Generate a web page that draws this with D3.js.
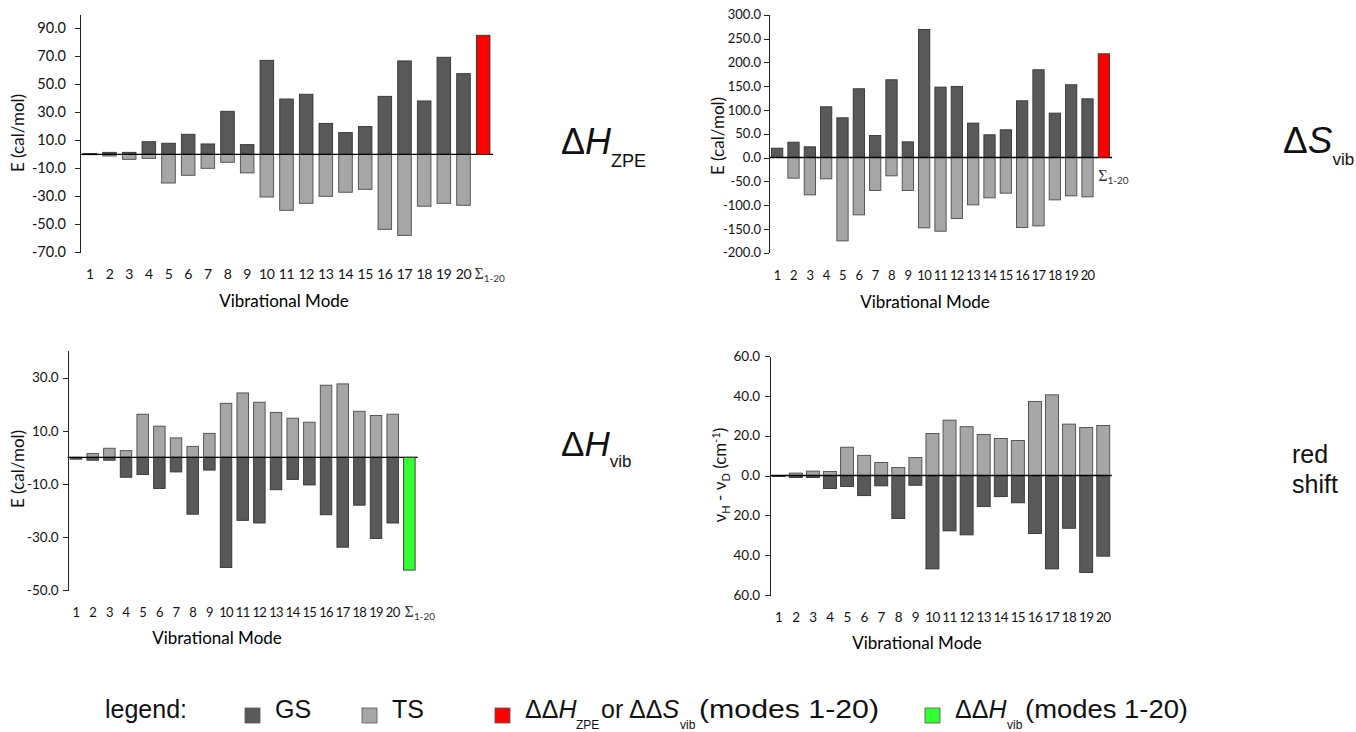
<!DOCTYPE html>
<html>
<head>
<meta charset="utf-8">
<script src="https://cdn.jsdelivr.net/npm/d3@7"></script>
<style>
  html, body { margin: 0; padding: 0; background: #fff; }
  svg { display: block; }
  .ax text { font-family: Lato, "Open Sans", sans-serif; fill: #111; }
  .ax path, .ax line { stroke: #222; shape-rendering: crispEdges; }
</style>
</head>
<body>
<svg id="chart" width="1356" height="732"></svg>
<script>
// ---------------- data ----------------
const modes = ["1","2","3","4","5","6","7","8","9","10","11","12","13","14","15","16","17","18","19","20"];
const sumLabel = "Σ";
const sumSub = "1-20";

// ΔH_ZPE (cal/mol)
const zpeGS = [0.5, 1.4, 1.4, 9.0, 7.9, 14.3, 7.4, 30.7, 6.9, 67.1, 39.5, 42.9, 22.1, 15.5, 19.8, 41.4, 66.7, 38.1, 69.3, 57.6];
const zpeTS = [-0.3, -1.2, -3.6, -2.9, -20.5, -15.0, -10.0, -5.7, -13.3, -30.5, -40.0, -35.0, -30.0, -27.1, -25.0, -53.6, -57.9, -37.1, -35.0, -36.4];
const zpeSum = 85.0;
const zpeTicks = [-70, -50, -30, -10, 10, 30, 50, 70, 90];

// ΔS_vib
const svibGS = [19.6, 32.2, 22.4, 106.5, 83.4, 144.4, 46.3, 163.3, 32.9, 269.1, 147.9, 149.3, 72.2, 47.7, 58.2, 119.1, 184.3, 93.2, 152.8, 123.3];
const svibTS = [0, -43.4, -78.5, -44.8, -175.2, -120.5, -69.4, -38.5, -69.4, -147.9, -154.9, -128.2, -99.5, -84.8, -75.0, -147.2, -143.7, -89.0, -80.6, -82.7];
const svibSum = 217.9;
const svibTicks = [-200, -150, -100, -50, 0, 50, 100, 150, 200, 250, 300];

// ΔH_vib
const hvibGS = [-0.7, -1.1, -1.1, -7.5, -6.5, -11.7, -5.5, -21.4, -4.8, -41.4, -23.7, -24.7, -12.2, -8.3, -10.4, -21.6, -33.8, -18.0, -30.5, -24.7];
const hvibTS = [0.0, 1.4, 3.4, 2.5, 16.2, 11.7, 7.3, 4.1, 9.0, 20.3, 24.2, 20.7, 16.9, 14.7, 13.2, 27.1, 27.6, 17.3, 15.7, 16.2];
const hvibSum = -42.4;
const hvibTicks = [-50, -30, -10, 10, 30];

// red shift (cm-1)
const shiftGS = [-0.5, -1.0, -1.0, -6.5, -5.5, -10.1, -5.2, -21.6, -4.9, -46.9, -27.8, -29.8, -15.6, -10.6, -13.7, -29.1, -46.9, -26.5, -48.7, -40.5];
const shiftTS = [0.0, 1.2, 2.2, 2.0, 14.2, 10.1, 6.5, 4.0, 9.0, 21.1, 27.8, 24.5, 20.6, 18.6, 17.6, 37.2, 40.5, 25.8, 24.1, 25.1];
const shiftTicks = [-60, -40, -20, 0, 20, 40, 60];

const legendItems = ["GS", "TS"];

// ---------------- drawing ----------------
const COL_GS = "#595959", COL_TS = "#a6a6a6", COL_RED = "#ff0000", COL_GREEN = "#33ff33";
const svg = d3.select("#chart");
svg.append("rect").attr("width", 1356).attr("height", 732).attr("fill", "#fff");

function drawChart(c) {
  const g = svg.append("g");
  const cats = c.sum !== null ? modes.concat(["S"]) : modes.slice();
  const x = d3.scaleBand().domain(cats).range(c.xr).paddingInner(c.pad).paddingOuter(c.pad / 2);
  const y = d3.scaleLinear().domain(c.dom).range(c.yr);
  const bw = x.bandwidth();

  const rows = modes.map((m, i) => ({ m, gs: c.gs[i], ts: c.ts[i] }));
  g.selectAll(".ts").data(rows).join("rect")
    .attr("x", d => x(d.m)).attr("width", bw)
    .attr("y", d => y(Math.max(0, d.ts))).attr("height", d => Math.abs(y(d.ts) - y(0)))
    .attr("fill", COL_TS).attr("stroke", "#4a4a4a").attr("stroke-width", 0.9);
  g.selectAll(".gs").data(rows).join("rect")
    .attr("x", d => x(d.m)).attr("width", bw)
    .attr("y", d => y(Math.max(0, d.gs))).attr("height", d => Math.abs(y(d.gs) - y(0)))
    .attr("fill", COL_GS).attr("stroke", "#333").attr("stroke-width", 0.9);

  g.append("line").attr("x1", c.xr[0]).attr("x2", c.xr[1]).attr("y1", y(0)).attr("y2", y(0))
    .attr("stroke", "#000").attr("stroke-width", 1.3);

  if (c.sum !== null) {
    g.append("rect").attr("x", x("S")).attr("width", bw)
      .attr("y", y(Math.max(0, c.sum))).attr("height", Math.abs(y(c.sum) - y(0)))
      .attr("fill", c.sumColor).attr("stroke", "#333").attr("stroke-width", 0.9);
  }

  const ax = d3.axisLeft(y).tickValues(c.ticks).tickFormat(c.fmt)
    .tickSizeInner(5).tickSizeOuter(0).tickPadding(c.tp);
  const ag = g.append("g").attr("class", "ax").attr("transform", `translate(${c.xr[0]},0)`).call(ax);
  ag.selectAll("text").style("font-size", c.tickFont + "px");

  const lab = g.append("g").attr("class", "ax");
  lab.selectAll("text").data(modes).join("text")
    .attr("x", d => x(d) + bw / 2).attr("y", c.catY)
    .attr("text-anchor", "middle").style("font-size", c.catFont + "px").style("letter-spacing", c.catLs + "px")
    .text(d => d);
  if (c.sum !== null) {
    const t = lab.append("text").attr("x", x("S") + c.sumDx).attr("y", c.sumY);
    t.append("tspan").text(sumLabel).style("font-family", "'Liberation Serif', 'DejaVu Serif', serif").style("font-size", "16px").style("fill", "#333");
    t.append("tspan").text(sumSub).attr("dy", 3).style("font-size", "10px").style("fill", "#333");
  }

  g.append("text").attr("class", "ax").attr("x", c.titleX).attr("y", c.titleY)
    .attr("text-anchor", "middle").style("font-family", "Lato, sans-serif").style("font-size", "17px")
    .text("Vibrational Mode");
  const yt = g.append("text")
    .attr("transform", `translate(${c.ytX},${c.ytY}) rotate(-90)`)
    .attr("text-anchor", "middle").style("font-family", "Lato, sans-serif").style("font-size", "17px").style("fill", "#111");
  if (c.ytitle === "shift") {
    yt.append("tspan").text("ν");
    yt.append("tspan").text("H").attr("dy", 4).style("font-size", "11px");
    yt.append("tspan").text(" - ν").attr("dy", -4);
    yt.append("tspan").text("D").attr("dy", 4).style("font-size", "11px");
    yt.append("tspan").text(" (cm").attr("dy", -4);
    yt.append("tspan").text("-1").attr("dy", -6).style("font-size", "11px");
    yt.append("tspan").text(")").attr("dy", 6);
  } else {
    yt.text("E (cal/mol)");
  }
}

const fmt1 = v => v.toFixed(1);
const fmtAbs = v => Math.abs(v).toFixed(1);

drawChart({ gs: zpeGS, ts: zpeTS, sum: zpeSum, sumColor: COL_RED, xr: [80, 493], pad: 0.31,
  dom: [-70, 100], yr: [252.3, 14.3], ticks: zpeTicks, fmt: fmt1, tp: 9, tickFont: 14.5,
  catY: 279, catFont: 14, catLs: -0.4, sumDx: -2, sumY: 279, titleX: 284, titleY: 307, ytX: 24, ytY: 133 });

drawChart({ gs: svibGS, ts: svibTS, sum: svibSum, sumColor: COL_RED, xr: [769, 1112], pad: 0.31,
  dom: [-200, 300], yr: [252.7, 14.7], ticks: svibTicks, fmt: fmt1, tp: 3, tickFont: 13,
  catY: 280, catFont: 13, catLs: -0.7, sumDx: 0, sumY: 181, titleX: 925, titleY: 308, ytX: 724, ytY: 136 });

drawChart({ gs: hvibGS, ts: hvibTS, sum: hvibSum, sumColor: COL_GREEN, xr: [67.7, 417.7], pad: 0.31,
  dom: [-50, 40], yr: [590.3, 350.9], ticks: hvibTicks, fmt: fmt1, tp: 4, tickFont: 13.5,
  catY: 617, catFont: 13, catLs: -0.7, sumDx: 1, sumY: 617, titleX: 217, titleY: 644, ytX: 24, ytY: 469 });

drawChart({ gs: shiftGS, ts: shiftTS, sum: null, xr: [770.2, 1111.8], pad: 0.24,
  dom: [-60, 60], yr: [595, 356], ticks: shiftTicks, fmt: fmtAbs, tp: 5, tickFont: 13.5,
  catY: 621.5, catFont: 13.5, catLs: -0.6, titleX: 917, titleY: 649, ytX: 726, ytY: 475, ytitle: "shift" });

// ---------------- big labels ----------------
const BIG = "'Liberation Sans', Arial, sans-serif";
function bigLabel(x0, yb, letter, sub, size, subSize, subDy) {
  const t = svg.append("text").attr("x", x0).attr("y", yb).style("font-family", BIG).style("font-size", size + "px").style("fill", "#111");
  t.append("tspan").text("Δ");
  t.append("tspan").text(letter).style("font-style", "italic");
  t.append("tspan").text(sub).attr("dy", subDy).style("font-size", subSize + "px");
}
bigLabel(561, 154, "H", "ZPE", 36, 18, 13);
bigLabel(1283, 153, "S", "vib", 37, 17, 12);
bigLabel(561, 456, "H", "vib", 35, 17, 11);
const rs = svg.append("text").style("font-family", BIG).style("font-size", "25px").style("fill", "#111");
rs.append("tspan").attr("x", 1292).attr("y", 463).text("red");
rs.append("tspan").attr("x", 1292).attr("y", 493).text("shift");

// ---------------- legend ----------------
const L = svg.append("g").style("font-family", BIG).style("fill", "#111");
L.append("text").attr("x", 105).attr("y", 718).style("font-size", "25px").text("legend:");
const legSq = [
  { x: 245, c: COL_GS }, { x: 362, c: COL_TS }, { x: 495, c: COL_RED }, { x: 925, c: COL_GREEN }
];
L.selectAll("rect.sq").data(legSq).join("rect")
  .attr("x", d => d.x).attr("y", 708).attr("width", 15).attr("height", 15)
  .attr("fill", d => d.c).attr("stroke", "#555").attr("stroke-width", 0.8);
L.append("text").attr("x", 275).attr("y", 718).style("font-size", "25px").text(legendItems[0]);
L.append("text").attr("x", 392).attr("y", 718).style("font-size", "25px").text(legendItems[1]);

function legText(x, txt, italicLetter) {
  const t = L.append("text").attr("x", x).attr("y", 718).style("font-size", "25px");
  t.append("tspan").text(txt);
  if (italicLetter) t.append("tspan").text(italicLetter).style("font-style", "italic");
  return t;
}
function legSub(x, txt) {
  L.append("text").attr("x", x).attr("y", 729).style("font-size", "12px").text(txt);
}
// red entry
legText(525, "ΔΔ", "H");
legSub(576, "ZPE");
legText(601, "or");
legText(629, "ΔΔ", "S");
legSub(680, "vib");
legText(699, "(modes 1-20)").attr("textLength", 180).attr("lengthAdjust", "spacingAndGlyphs");
// green entry
legText(955, "ΔΔ", "H");
legSub(1007, "vib");
legText(1025, "(modes 1-20)").attr("textLength", 163).attr("lengthAdjust", "spacingAndGlyphs");
</script>
</body>
</html>
